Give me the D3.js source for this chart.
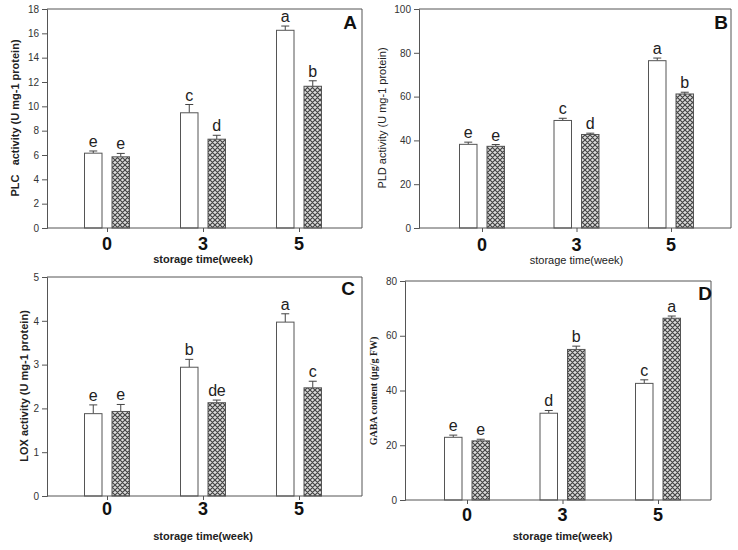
<!DOCTYPE html>
<html><head><meta charset="utf-8">
<script src="https://cdn.jsdelivr.net/npm/d3@7"></script>
<style>body{margin:0;background:#fff}svg{display:block}</style>
</head><body>
<svg id="c" width="738" height="550"></svg>
<script>
// ---- data ----
const categories = ["0", "3", "5"];
const plcCtrl = [6.15, 9.47, 16.25];
const plcCtrlErr = [0.18, 0.68, 0.35];
const plcTrt = [5.85, 7.3, 11.65];
const plcTrtErr = [0.28, 0.32, 0.45];
const pldCtrl = [38.2, 49.1, 76.4];
const pldCtrlErr = [1.0, 1.0, 1.2];
const pldTrt = [37.3, 42.7, 61.2];
const pldTrtErr = [0.8, 0.6, 0.8];
const loxCtrl = [1.88, 2.94, 3.97];
const loxCtrlErr = [0.2, 0.18, 0.19];
const loxTrt = [1.93, 2.13, 2.47];
const loxTrtErr = [0.16, 0.06, 0.15];
const gabaCtrl = [22.9, 31.7, 42.6];
const gabaCtrlErr = [0.8, 1.0, 1.3];
const gabaTrt = [21.6, 55.0, 66.4];
const gabaTrtErr = [0.6, 1.2, 0.8];
const plcLetters = [["e","c","a"],["e","d","b"]];
const pldLetters = [["e","c","a"],["e","d","b"]];
const loxLetters = [["e","b","a"],["e","de","c"]];
const gabaLetters = [["e","d","c"],["e","b","a"]];
const plcTicks = [0,2,4,6,8,10,12,14,16,18];
const pldTicks = [0,20,40,60,80,100];
const loxTicks = [0,1,2,3,4,5];
const gabaTicks = [0,20,40,60,80];

const svg = d3.select("#c");
const defs = svg.append("defs");
const pat = defs.append("pattern").attr("id","hatch").attr("patternUnits","userSpaceOnUse")
  .attr("width",5).attr("height",5);
pat.append("rect").attr("width",5).attr("height",5).attr("fill","#dcdcdc");
pat.append("path").attr("d","M0,0L5,5M5,0L0,5M-1,4L1,6M4,-1L6,1M-1,1L1,-1M4,6L6,4")
  .attr("stroke","#444").attr("stroke-width",1.2);

const panels = [
  {ctrl:plcCtrl, ce:plcCtrlErr, trt:plcTrt, te:plcTrtErr, letters:plcLetters, ticks:plcTicks, max:18,
   left:47, right:362, top:9, bottom:228, c0:107, c2:299,
   ylab:"PLC   activity (U mg-1 protein)", ylx:16, yly:118, ylw:"bold", ylf:"Liberation Sans", yls:11,
   xly:263, xlw:"bold", xtY:250, pl:"A", plx:350, ply:29},
  {ctrl:pldCtrl, ce:pldCtrlErr, trt:pldTrt, te:pldTrtErr, letters:pldLetters, ticks:pldTicks, max:100,
   left:419, right:731, top:9, bottom:228, c0:482, c2:671,
   ylab:"PLD activity (U mg-1 protein)", ylx:383, yly:118, ylw:"normal", ylf:"Liberation Sans", yls:11,
   xly:264, xlw:"normal", xtY:251, pl:"B", plx:721, ply:29},
  {ctrl:loxCtrl, ce:loxCtrlErr, trt:loxTrt, te:loxTrtErr, letters:loxLetters, ticks:loxTicks, max:5,
   left:47, right:362, top:277, bottom:496, c0:107, c2:299,
   ylab:"LOX activity (U mg-1 protein)", ylx:25, yly:386, ylw:"bold", ylf:"Liberation Sans Narrow, Liberation Sans", yls:11,
   xly:540, xlw:"bold", xtY:515, pl:"C", plx:348, ply:295},
  {ctrl:gabaCtrl, ce:gabaCtrlErr, trt:gabaTrt, te:gabaTrtErr, letters:gabaLetters, ticks:gabaTicks, max:80,
   left:405, right:711, top:281, bottom:500, c0:467, c2:658,
   ylab:"GABA content (μg/g FW)", ylx:375, yly:391, ylw:"bold", ylf:"Liberation Serif", yls:10,
   xly:540, xlw:"bold", xtY:521, pl:"D", plx:705, ply:300}
];

const barW = 17.5, gap = 10;
panels.forEach(p => {
  const g = svg.append("g");
  const x = d3.scalePoint().domain(categories).range([p.c0, p.c2]);
  const y = d3.scaleLinear().domain([0, p.max]).range([p.bottom, p.top]);

  g.append("path").attr("d",`M${p.left},${p.top}H${p.right}V${p.bottom}`)
    .attr("fill","none").attr("stroke","#555").attr("stroke-width",1);

  const series = [
    {vals:p.ctrl, err:p.ce, fill:"#fff", off:-(gap/2+barW), letters:p.letters[0]},
    {vals:p.trt, err:p.te, fill:"url(#hatch)", off:gap/2, letters:p.letters[1]}
  ];
  series.forEach(s => {
    categories.forEach((c,i) => {
      const bx = x(c) + s.off;
      const v = s.vals[i], e = s.err[i];
      const cx = bx + barW/2;
      g.append("line").attr("x1",cx).attr("x2",cx).attr("y1",y(v)).attr("y2",y(v+e))
        .attr("stroke","#444").attr("stroke-width",1);
      g.append("line").attr("x1",cx-4).attr("x2",cx+4).attr("y1",y(v+e)).attr("y2",y(v+e))
        .attr("stroke","#444").attr("stroke-width",1);
      g.append("rect").attr("x",bx).attr("y",y(v)).attr("width",barW).attr("height",y(0)-y(v))
        .attr("fill",s.fill).attr("stroke","#555").attr("stroke-width",1);
      g.append("text").attr("x",cx).attr("y",y(v+e)-4).attr("text-anchor","middle")
        .attr("font-family","Liberation Sans, Arial").attr("font-size",16).attr("fill","#222")
        .attr("letter-spacing", s.letters[i].length>1 ? -0.5 : 0)
        .text(s.letters[i]);
    });
  });

  const ya = g.append("g").attr("transform",`translate(${p.left},0)`)
    .call(d3.axisLeft(y).tickValues(p.ticks).tickSize(5).tickPadding(3).tickFormat(d3.format("d")));
  ya.selectAll("path,line").attr("stroke","#555");
  ya.selectAll("text").attr("font-family","Liberation Sans, Arial").attr("font-size",10).attr("fill","#333");
  const xa = g.append("g").attr("transform",`translate(0,${p.bottom})`)
    .call(d3.axisBottom(x).tickSize(4).tickFormat(()=>""));
  xa.select(".domain").remove();
  xa.selectAll("line").attr("stroke","#555");
  g.append("line").attr("x1",p.left).attr("x2",p.right).attr("y1",p.bottom).attr("y2",p.bottom)
    .attr("stroke","#555").attr("stroke-width",1);
  categories.forEach(c => {
    g.append("text").attr("x",x(c)).attr("y",p.xtY).attr("text-anchor","middle")
      .attr("font-family","Liberation Sans, Arial").attr("font-weight","bold").attr("font-size",18)
      .attr("fill","#111").text(c);
  });
  g.append("text").attr("x",(p.c0+p.c2)/2).attr("y",p.xly).attr("text-anchor","middle")
    .attr("font-family","Liberation Sans, Arial").attr("font-weight",p.xlw).attr("font-size",11)
    .attr("fill","#222").text("storage time(week)");
  g.append("text").attr("transform",`translate(${p.ylx},${p.yly}) rotate(-90)`)
    .attr("text-anchor","middle").attr("dominant-baseline","middle")
    .style("white-space","pre")
    .attr("font-family",p.ylf).attr("font-weight",p.ylw).attr("font-size",p.yls)
    .attr("fill","#222").text(p.ylab);
  g.append("text").attr("x",p.plx).attr("y",p.ply).attr("text-anchor","middle")
    .attr("font-family","Liberation Sans, Arial").attr("font-weight","bold").attr("font-size",19)
    .attr("fill","#111").text(p.pl);
});
</script>
</body></html>
